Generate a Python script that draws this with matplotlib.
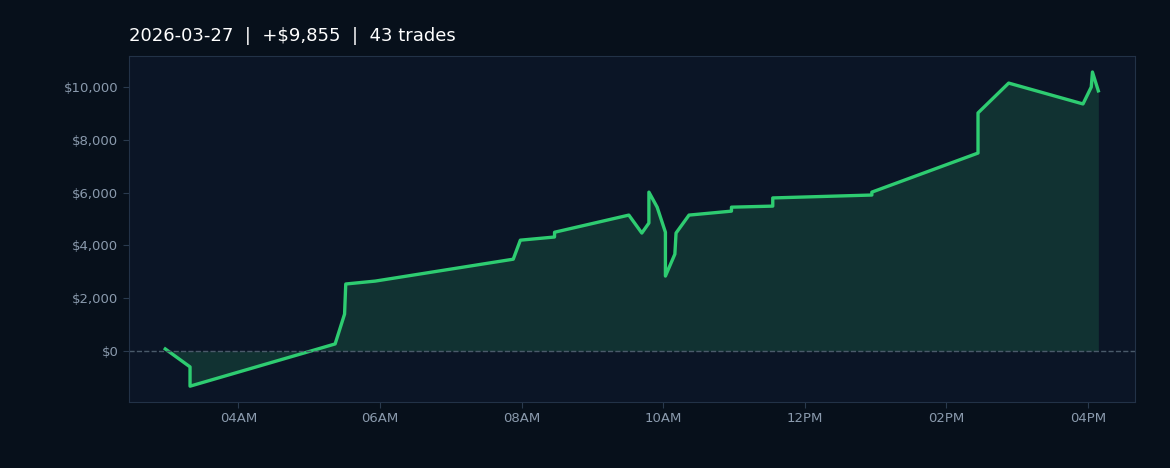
import matplotlib
matplotlib.use("Agg")
import matplotlib.pyplot as plt
import matplotlib.dates as mdates
import pandas as pd

times = ["02:58","03:19","03:19","05:22","05:30","05:31","05:56","07:53","07:59","08:28","08:28",
         "09:31","09:42","09:48","09:48","09:55","10:02","10:02","10:10","10:11","10:22","10:58",
         "10:58","11:33","11:33","12:57","12:57","14:27","14:27","14:53","15:56","16:03","16:04","16:09"]
pnl = [80,-600,-1330,270,1400,2540,2650,3480,4200,4320,4500,
       5150,4470,4850,6020,5450,4500,2840,3670,4470,5150,5300,
       5450,5490,5800,5910,6020,7500,9020,10150,9360,10000,10570,9855]
title = "2026-03-27  |  +$9,855  |  43 trades"

x = pd.to_datetime(["2026-03-27 " + t for t in times])
fig = plt.figure(figsize=(11.7, 4.68), dpi=100, facecolor="#07101b")
ax = fig.add_axes([0.110, 0.141, 0.860, 0.739], facecolor="#0b1526")
ax.fill_between(x, pnl, 0, color="#1f6b4a", alpha=0.35, linewidth=0)
ax.plot(x, pnl, color="#2ecc71", lw=2.4)
ax.axhline(0, color="#4a5a6a", lw=1, ls="--")
ax.set_xlim(pd.Timestamp("2026-03-27 02:27"), pd.Timestamp("2026-03-27 16:40"))
ax.set_ylim(-1930, 11170)
ax.xaxis.set_major_locator(mdates.HourLocator(byhour=range(0, 24, 2)))
ax.xaxis.set_major_formatter(mdates.DateFormatter("%I%p"))
ax.yaxis.set_major_locator(plt.MultipleLocator(2000))
ax.yaxis.set_major_formatter(plt.FuncFormatter(lambda v, p: f"${v:,.0f}" if v >= 0 else ""))
ax.set_yticks([0, 2000, 4000, 6000, 8000, 10000])
ax.tick_params(colors="#8a9aad", labelsize=9.5, length=4)
ax.tick_params(axis="both", color="#2a3a4e")
for s in ax.spines.values():
    s.set_color("#223247")
fig.text(129/1170, 1-36/468, title, color="#ffffff", fontsize=13, va="center", ha="left")
fig.savefig("out.png", facecolor=fig.get_facecolor())
